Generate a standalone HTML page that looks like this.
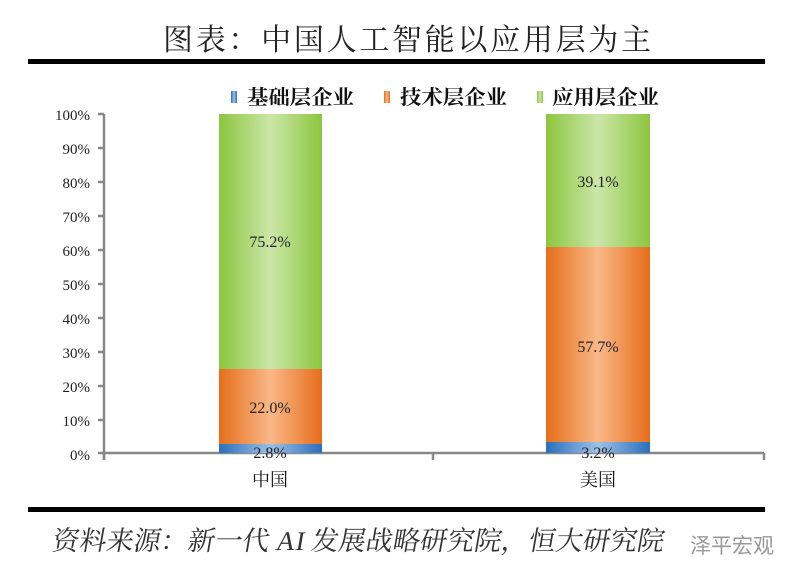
<!DOCTYPE html>
<html><head><meta charset="utf-8"><style>
body{margin:0;background:#fff;width:800px;height:579px;overflow:hidden}
</style></head><body>
<svg width="800" height="579" xmlns="http://www.w3.org/2000/svg" font-family="'Liberation Serif','Noto Serif CJK SC',serif">
<defs>
<linearGradient id="g" x1="0" x2="1"><stop offset="0" stop-color="#8cc63e"/><stop offset="0.5" stop-color="#cbe6a8"/><stop offset="1" stop-color="#8cc63e"/></linearGradient>
<linearGradient id="o" x1="0" x2="1"><stop offset="0" stop-color="#e66e1c"/><stop offset="0.5" stop-color="#f9b888"/><stop offset="1" stop-color="#e66e1c"/></linearGradient>
<linearGradient id="b" x1="0" x2="1"><stop offset="0" stop-color="#2a6fbd"/><stop offset="0.5" stop-color="#9dc0e6"/><stop offset="1" stop-color="#2a6fbd"/></linearGradient>
</defs>
<text x="163" y="50" font-size="30" fill="#222" textLength="488" lengthAdjust="spacing">图表：中国人工智能以应用层为主</text>
<rect x="28" y="59" width="737" height="5" fill="#000"/>
<g font-size="20" font-weight="bold" fill="#111">
<rect x="231" y="91" width="6" height="12" fill="url(#b)"/><text x="247" y="104" textLength="107" lengthAdjust="spacingAndGlyphs">基础层企业</text>
<rect x="384" y="91" width="6" height="12" fill="url(#o)"/><text x="400" y="104" textLength="107" lengthAdjust="spacingAndGlyphs">技术层企业</text>
<rect x="537" y="91" width="6" height="12" fill="url(#g)"/><text x="552" y="104" textLength="107" lengthAdjust="spacingAndGlyphs">应用层企业</text>
</g>
<g font-size="15" fill="#222" text-anchor="end">
<text x="90" y="120">100%</text><text x="90" y="154">90%</text><text x="90" y="188">80%</text><text x="90" y="222">70%</text><text x="90" y="256">60%</text><text x="90" y="290">50%</text><text x="90" y="324">40%</text><text x="90" y="358">30%</text><text x="90" y="392">20%</text><text x="90" y="426">10%</text><text x="90" y="460">0%</text>
</g>
<g stroke="#888" stroke-width="2.5" fill="none">
<path d="M104 114V460M98 114H104M98 148H104M98 182H104M98 216H104M98 250H104M98 284H104M98 318H104M98 352H104M98 386H104M98 420H104M98 453H764"/>
<path d="M104 453V460M433 453V460M764 453V460"/>
</g>
<rect x="219" y="114" width="103" height="255" fill="url(#g)"/>
<rect x="219" y="369" width="103" height="75" fill="url(#o)"/>
<rect x="219" y="444" width="103" height="9" fill="url(#b)"/>
<rect x="546" y="114" width="104" height="133" fill="url(#g)"/>
<rect x="546" y="247" width="104" height="195" fill="url(#o)"/>
<rect x="546" y="442" width="104" height="11" fill="url(#b)"/>
<g font-size="16" fill="#222" text-anchor="middle">
<text x="270" y="247">75.2%</text><text x="270" y="413">22.0%</text><text x="270" y="458">2.8%</text>
<text x="598" y="187">39.1%</text><text x="598" y="352">57.7%</text><text x="598" y="458">3.2%</text>
</g>
<g font-size="18" fill="#111" text-anchor="middle"><text x="270" y="486">中国</text><text x="598" y="486">美国</text></g>
<rect x="28" y="507" width="737" height="5" fill="#000"/>
<text x="0" y="550" font-size="27" fill="#333" transform="translate(148,0) skewX(-10)" textLength="612" lengthAdjust="spacingAndGlyphs">资料来源：新一代 AI 发展战略研究院，恒大研究院</text>
<text x="690" y="553" font-size="21" fill="#999" font-family="'Liberation Sans','Noto Sans CJK SC',sans-serif">泽平宏观</text>
</svg>
</body></html>
